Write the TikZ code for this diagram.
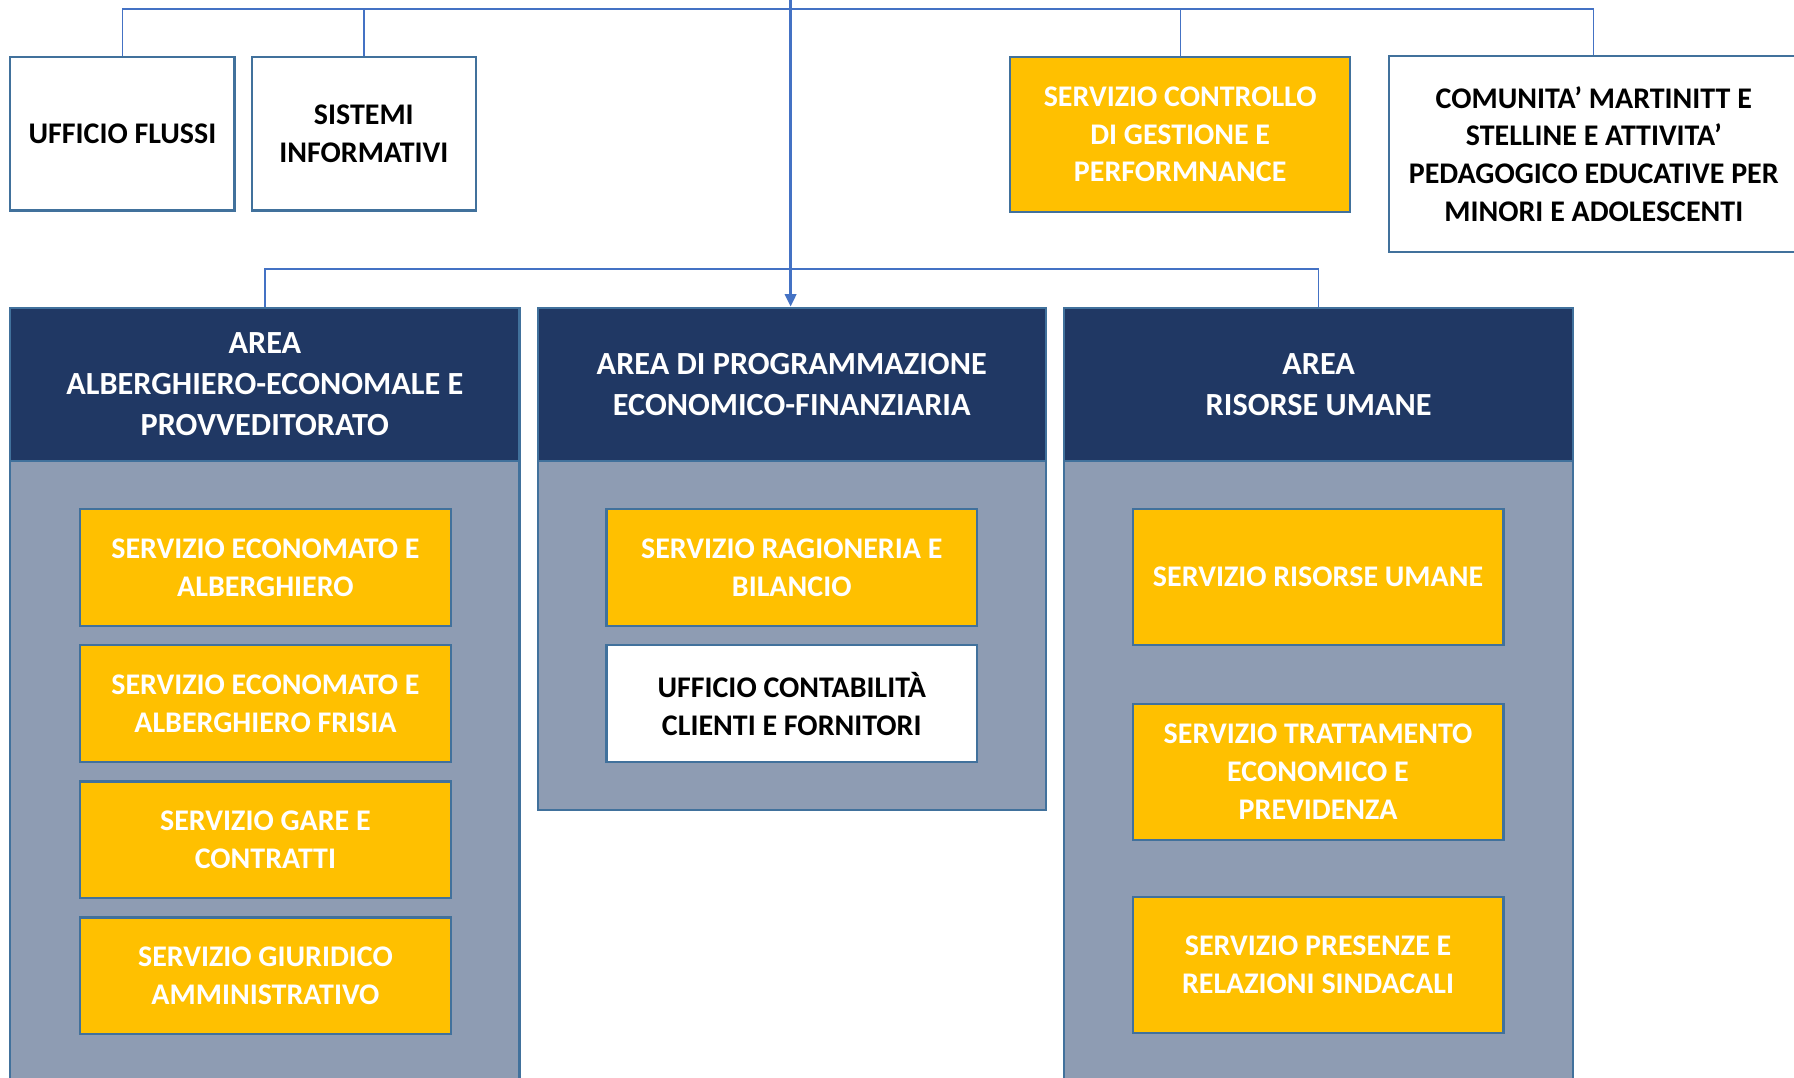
\documentclass[tikz,border=0pt]{standalone}
\usepackage{fontspec}
\setmainfont{Carlito}
\usetikzlibrary{arrows.meta}
\definecolor{bordc}{HTML}{41719C}
\definecolor{linec}{HTML}{4472C4}
\definecolor{navy}{HTML}{203864}
\definecolor{bodyc}{HTML}{8E9CB3}
\definecolor{gold}{HTML}{FFC000}
\tikzset{
  boxtxt/.style={font=\bfseries\fontsize{26.2}{33}\selectfont, align=center, inner sep=0pt},
  whitebox/.style={boxtxt, draw=bordc, line width=2pt, fill=white, text=black},
  goldbox/.style={boxtxt, draw=bordc, line width=2pt, fill=gold, text=white},
  headbox/.style={font=\bfseries\fontsize{28.2}{36}\selectfont, align=center, inner sep=0pt, draw=bordc, line width=2pt, fill=navy, text=white},
  bodybox/.style={draw=bordc, line width=2pt, fill=bodyc, inner sep=0pt},
  conn/.style={draw=linec, line width=1.2pt},
  mainconn/.style={draw=linec, line width=2.2pt, -{Triangle[length=11pt,width=10pt]}}
}
\begin{document}
\begin{tikzpicture}[x=1pt,y=-1pt]
\useasboundingbox (0,0) rectangle (1568,942);
\clip (0,0) rectangle (1568,942);
\fill[white] (0,0) rectangle (1568,942);
% top row
\node[whitebox, minimum width=196pt, minimum height=134pt] (uff) at (107,117) {UFFICIO FLUSSI};
\node[whitebox, minimum width=196pt, minimum height=134pt] (sis) at (318,117) {SISTEMI\\INFORMATIVI};
\node[goldbox, minimum width=297pt, minimum height=135pt] (ctrl) at (1031.5,117.5) {SERVIZIO CONTROLLO\\DI GESTIONE E\\PERFORMNANCE};
\node[whitebox, minimum width=358pt, minimum height=171pt] (comm) at (1393,134.5) {COMUNITA’ MARTINITT E\\STELLINE E ATTIVITA’\\PEDAGOGICO EDUCATIVE PER\\MINORI E ADOLESCENTI};
% area bodies
\node[bodybox, minimum width=445pt, minimum height=580pt] (bl) at (231.5,693) {};
\node[bodybox, minimum width=444pt, minimum height=305pt] (bc) at (692,555.5) {};
\node[bodybox, minimum width=445pt, minimum height=580pt] (br) at (1152.5,693) {};
% area headers
\node[headbox, minimum width=445pt, minimum height=134pt] (hl) at (231.5,336) {AREA\\ALBERGHIERO-ECONOMALE E\\PROVVEDITORATO};
\node[headbox, minimum width=444pt, minimum height=134pt] (hc) at (692,336) {AREA DI PROGRAMMAZIONE\\ECONOMICO-FINANZIARIA};
\node[headbox, minimum width=445pt, minimum height=134pt] (hr) at (1152.5,336) {AREA\\RISORSE UMANE};
% left services
\node[goldbox, minimum width=324pt, minimum height=102pt] (l1) at (232,496) {SERVIZIO ECONOMATO E\\ALBERGHIERO};
\node[goldbox, minimum width=324pt, minimum height=102pt] (l2) at (232,615) {SERVIZIO ECONOMATO E\\ALBERGHIERO FRISIA};
\node[goldbox, minimum width=324pt, minimum height=102pt] (l3) at (232,734) {SERVIZIO GARE E\\CONTRATTI};
\node[goldbox, minimum width=324pt, minimum height=102pt] (l4) at (232,853) {SERVIZIO GIURIDICO\\AMMINISTRATIVO};
% center services
\node[goldbox, minimum width=324pt, minimum height=102pt] (c1) at (692,496) {SERVIZIO RAGIONERIA E\\BILANCIO};
\node[whitebox, minimum width=324pt, minimum height=102pt] (c2) at (692,615) {UFFICIO CONTABILITÀ\\CLIENTI E FORNITORI};
% right services
\node[goldbox, minimum width=324pt, minimum height=119pt] (r1) at (1152,504.5) {SERVIZIO RISORSE UMANE};
\node[goldbox, minimum width=324pt, minimum height=119pt] (r2) at (1152,674.5) {SERVIZIO TRATTAMENTO\\ECONOMICO E\\PREVIDENZA};
\node[goldbox, minimum width=324pt, minimum height=119pt] (r3) at (1152,843.5) {SERVIZIO PRESENZE E\\RELAZIONI SINDACALI};
% connectors
\coordinate (topl) at (0,8);
\coordinate (midl) at (0,235);
\coordinate (src) at (691,-2);
\draw[conn] (uff.north) -- (uff.north |- topl) -- (comm.north |- topl) -- (comm.north);
\draw[conn] (sis.north) -- (sis.north |- topl);
\draw[conn] (ctrl.north) -- (ctrl.north |- topl);
\draw[conn] (hl.north) -- (hl.north |- midl) -- (hr.north |- midl) -- (hr.north);
\draw[mainconn] (src) -- (src |- hc.north);
\end{tikzpicture}
\end{document}
